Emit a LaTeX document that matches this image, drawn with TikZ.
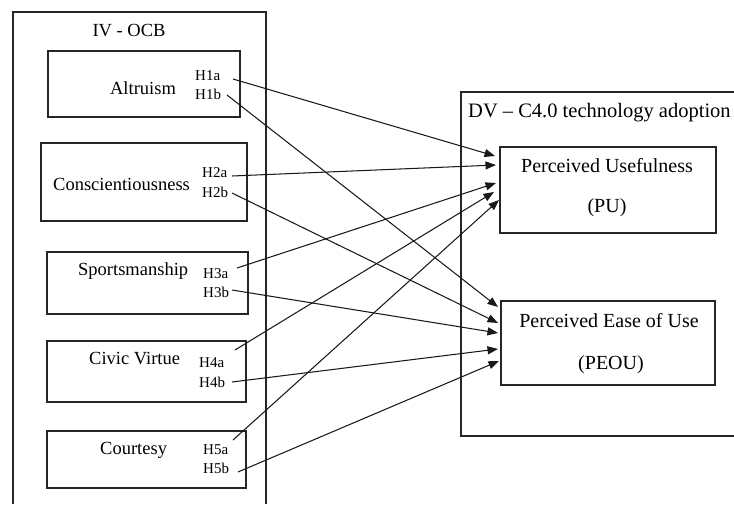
\documentclass[tikz,border=0pt]{standalone}
\usepackage{fontspec}
\setmainfont{Liberation Serif}
\newfontfamily\tnr{Liberation Serif}[Ligatures=TeX]
\usetikzlibrary{arrows.meta}
\begin{document}
\begin{tikzpicture}[x=1pt,y=-1pt,
  frame/.style={draw=black!85,line width=1.1pt},
  inbox/.style={draw=black!85,line width=1.1pt,rectangle,inner sep=0pt},
  lbl/.style={inner sep=0pt,font=\tnr\fontsize{18.5}{22}\selectfont},
  dvlbl/.style={inner sep=0pt,font=\tnr\fontsize{20}{23}\selectfont},
  hlbl/.style={inner sep=0pt,anchor=base west,font=\tnr\fontsize{15}{17}\selectfont},
  link/.style={draw=black!90,line width=1.05pt,-{Triangle[length=10.5pt,width=8pt]}}]
\useasboundingbox (0,0) rectangle (734,504);
% containers
\draw[frame] (13,504) -- (13,12) -- (266,12) -- (266,504);
\draw[frame] (734,92) -- (461,92) -- (461,436) -- (734,436);
\node[lbl,anchor=base] (ivt) at (129,36) {IV - OCB};
\node[dvlbl,anchor=base west,font=\tnr\fontsize{20.5}{23}\selectfont] (dvt) at (468,117) {DV – C4.0 technology adoption};
% IV boxes
\node[inbox,minimum width=192pt,minimum height=66pt] (altbox) at (144,84) {};
\node[inbox,minimum width=206pt,minimum height=78pt] (conbox) at (144,182) {};
\node[inbox,minimum width=201pt,minimum height=62pt] (spobox) at (147.5,283) {};
\node[inbox,minimum width=199pt,minimum height=61pt] (civbox) at (146.5,371.5) {};
\node[inbox,minimum width=199pt,minimum height=57pt] (coubox) at (146.5,459.5) {};
% DV boxes
\node[inbox,minimum width=216pt,minimum height=86pt] (pubox) at (608,190) {};
\node[inbox,minimum width=214pt,minimum height=84pt] (peoubox) at (608,343) {};
% texts
\node[lbl,anchor=base] (alt) at (143,94) {Altruism};
\node[lbl,anchor=base west] (con) at (53,190) {Conscientiousness};
\node[lbl,anchor=base west] (spo) at (78,275) {Sportsmanship};
\node[lbl,anchor=base west] (civ) at (89,364) {Civic Virtue};
\node[lbl,anchor=base west] (cou) at (100,454) {Courtesy};
\node[hlbl] (h1a) at (195,80) {H1a};
\node[hlbl] (h1b) at (195,99) {H1b};
\node[hlbl] (h2a) at (202,177) {H2a};
\node[hlbl] (h2b) at (202,197) {H2b};
\node[hlbl] (h3a) at (203,278) {H3a};
\node[hlbl] (h3b) at (203,297) {H3b};
\node[hlbl] (h4a) at (199,367) {H4a};
\node[hlbl] (h4b) at (199,387) {H4b};
\node[hlbl] (h5a) at (203,454) {H5a};
\node[hlbl] (h5b) at (203,473) {H5b};
\node[dvlbl,anchor=base] (pu1) at (607,172) {Perceived Usefulness};
\node[dvlbl,anchor=base] (pu2) at (607,212) {(PU)};
\node[dvlbl,anchor=base] (pe1) at (609,327) {Perceived Ease of Use};
\node[dvlbl,anchor=base] (pe2) at (611,369) {(PEOU)};
% connector ends
\coordinate (s1a) at (233,79);  \coordinate (e1a) at (495,156);
\coordinate (s1b) at (227,95);  \coordinate (e1b) at (498,307);
\coordinate (s2a) at (232,176); \coordinate (e2a) at (496,165);
\coordinate (s2b) at (232,193); \coordinate (e2b) at (498,323);
\coordinate (s3a) at (237,268); \coordinate (e3a) at (496,183);
\coordinate (s3b) at (232,290); \coordinate (e3b) at (498,333);
\coordinate (s4a) at (235,350); \coordinate (e4a) at (494,192);
\coordinate (s4b) at (232,382); \coordinate (e4b) at (498,349);
\coordinate (s5a) at (233,440); \coordinate (e5a) at (499,200);
\coordinate (s5b) at (238,472); \coordinate (e5b) at (499,361);
\foreach \k in {1a,1b,2a,2b,3a,3b,4a,4b,5a,5b}
  \draw[link] (s\k) -- (e\k);
\end{tikzpicture}
\end{document}
